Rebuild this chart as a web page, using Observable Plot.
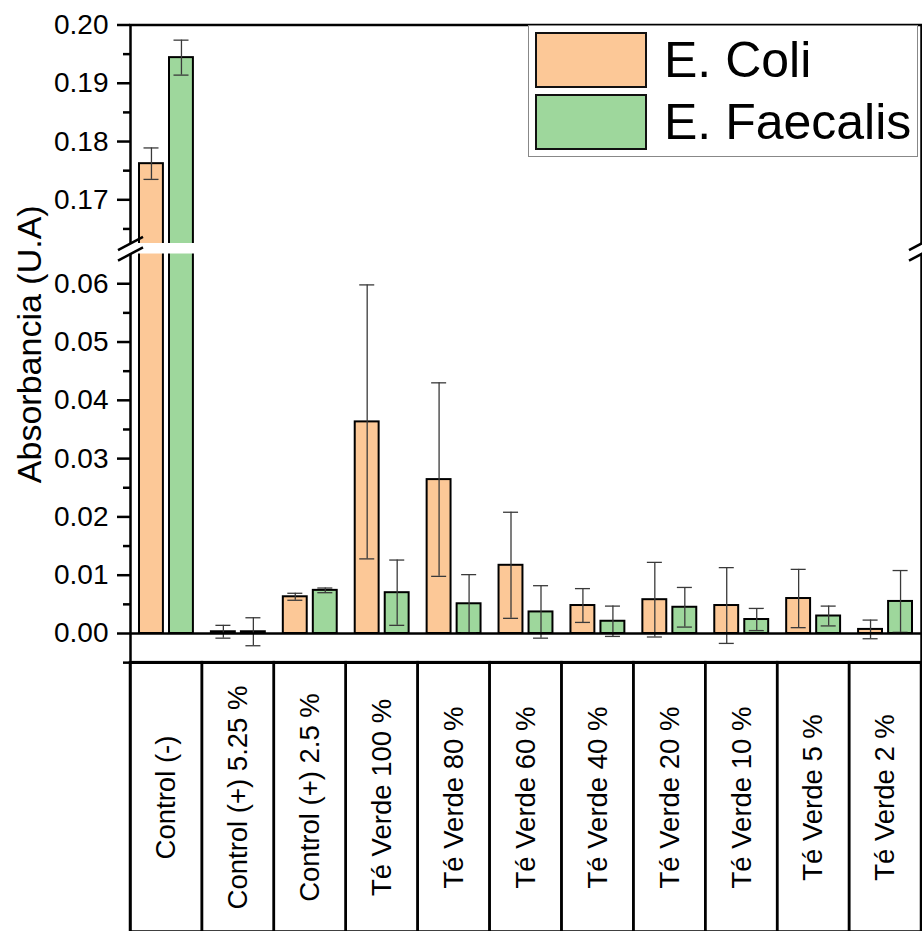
<!DOCTYPE html>
<html>
<head>
<meta charset="utf-8">
<script src="https://cdn.jsdelivr.net/npm/d3@7"></script>
<script src="https://cdn.jsdelivr.net/npm/@observablehq/plot@0.6"></script>
<style>
  body { margin: 0; background: #fff; font-family: "Liberation Sans", Arial, sans-serif; }
  #wrap { position: relative; width: 922px; height: 931px; overflow: hidden; }
  #legend { position: absolute; left: 528px; top: 25px; width: 390px; height: 132px; border: 1.5px solid #888; box-sizing: border-box; background: #fff; }
  .item { position: absolute; left: 6px; display: flex; align-items: center; }
  .sw { width: 108px; height: 52px; border: 2px solid #111; }
  .lab { font-size: 50px; margin-left: 17px; line-height: 1; color: #000; }
</style>
</head>
<body>
<div id="wrap"></div>
<script>
// ---- data ----
const categories = ["Control (-)", "Control (+) 5.25 %", "Control (+) 2.5 %", "Té Verde 100 %", "Té Verde 80 %", "Té Verde 60 %", "Té Verde 40 %", "Té Verde 20 %", "Té Verde 10 %", "Té Verde 5 %", "Té Verde 2 %"];
const seriesNames = ["E. Coli", "E. Faecalis"];
const coliMean = [0.1762, 0.0003, 0.0063, 0.0363, 0.0264, 0.0117, 0.0048, 0.0058, 0.0048, 0.0060, 0.0007];
const coliErr  = [0.0027, 0.0011, 0.0006, 0.0235, 0.0166, 0.0091, 0.0029, 0.0064, 0.0065, 0.0050, 0.0016];
const faecMean = [0.1944, 0.0003, 0.0074, 0.0070, 0.0051, 0.0037, 0.0021, 0.0045, 0.0024, 0.0030, 0.0055];
const faecErr  = [0.0030, 0.0024, 0.0004, 0.0056, 0.0050, 0.0045, 0.0026, 0.0034, 0.0019, 0.0017, 0.0053];
const majorTicks = [0, 0.01, 0.02, 0.03, 0.04, 0.05, 0.06, 0.17, 0.18, 0.19, 0.20];
const minorTicks = [-0.005, 0.005, 0.015, 0.025, 0.035, 0.045, 0.055, 0.165, 0.175, 0.185, 0.195];
const breakLow = 0.0651, breakHigh = 0.1625;
const yTitle = "Absorbancia (U.A)";
const colors = ["#FCC897", "#9ED79C"];

const coli = categories.map((c, i) => ({cat: c, value: coliMean[i], err: coliErr[i]}));
const faec = categories.map((c, i) => ({cat: c, value: faecMean[i], err: faecErr[i]}));

const slash = {draw(ctx) { ctx.moveTo(-12.5, 6.6); ctx.lineTo(12.5, -6.6); }};
const errColor = "#3a3a3a";

const chart = Plot.plot({
  width: 922, height: 931,
  marginLeft: 130, marginRight: 1, marginTop: 24.5, marginBottom: 0,
  style: {fontFamily: "'Liberation Sans', Arial, sans-serif", background: "white", color: "black", overflow: "visible"},
  x: {type: "band", domain: categories, padding: 0, round: false, axis: null},
  y: {type: "linear", domain: [0, breakLow, breakHigh, 0.20], range: [633, 253.5, 243, 24.5], axis: null},
  marks: [
    // category label boxes below the plot
    Plot.barY(categories, {x: d => d, y1: -0.005, y2: -0.06, fill: "none", stroke: "black", strokeWidth: 2.5}),
    // bars
    Plot.barY(coli, {x: "cat", y: "value", fill: colors[0], stroke: "black", strokeWidth: 2, insetLeft: 9, insetRight: 39}),
    Plot.barY(faec, {x: "cat", y: "value", fill: colors[1], stroke: "black", strokeWidth: 2, insetLeft: 39, insetRight: 9}),
    // error bars
    Plot.ruleX(coli, {x: "cat", y1: d => d.value - d.err, y2: d => d.value + d.err, dx: -15, stroke: errColor, strokeWidth: 1.3}),
    Plot.tickY(coli, {x: "cat", y: d => d.value + d.err, insetLeft: 13.5, insetRight: 43.4, stroke: errColor, strokeWidth: 1.3}),
    Plot.tickY(coli, {x: "cat", y: d => d.value - d.err, insetLeft: 13.5, insetRight: 43.4, stroke: errColor, strokeWidth: 1.3}),
    Plot.ruleX(faec, {x: "cat", y1: d => d.value - d.err, y2: d => d.value + d.err, dx: 15, stroke: errColor, strokeWidth: 1.3}),
    Plot.tickY(faec, {x: "cat", y: d => d.value + d.err, insetLeft: 43.5, insetRight: 13.4, stroke: errColor, strokeWidth: 1.3}),
    Plot.tickY(faec, {x: "cat", y: d => d.value - d.err, insetLeft: 43.5, insetRight: 13.4, stroke: errColor, strokeWidth: 1.3}),
    // zero line and plot bottom line
    Plot.ruleY([0], {stroke: "black", strokeWidth: 2.5}),
    Plot.ruleY([-0.005], {stroke: "black", strokeWidth: 2.5}),
    Plot.frame({stroke: "black", strokeWidth: 2.5}),
    // axis
    Plot.axisY(majorTicks, {anchor: "left", tickSize: 13, tickPadding: 9, tickFormat: d3.format(".2f"), fontSize: 28, strokeWidth: 2.5, stroke: "black", label: null}),
    Plot.axisY(minorTicks, {anchor: "left", tickSize: 7, text: null, strokeWidth: 2.5, stroke: "black", label: null}),
    // axis break
    Plot.rect([0], {y1: breakLow, y2: breakHigh, fill: "white", insetLeft: -14, insetRight: -3}),
    Plot.dot([breakHigh, breakLow], {y: d => d, frameAnchor: "left", symbol: slash, stroke: "black", strokeWidth: 2.5, fill: "none"}),
    Plot.dot([breakHigh, breakLow], {y: d => d, frameAnchor: "right", symbol: slash, stroke: "black", strokeWidth: 2.5, fill: "none"}),
    // category labels
    Plot.text(categories, {x: d => d, frameAnchor: "bottom", dy: -134, rotate: -90, fontSize: 27.5, textAnchor: "middle", lineAnchor: "middle", fill: "black"}),
    // y title
    Plot.text([yTitle], {text: d => d, frameAnchor: "left", dx: -100, dy: -134, rotate: -90, fontSize: 34, textAnchor: "middle", lineAnchor: "middle", fill: "black"})
  ]
});

const wrap = document.getElementById("wrap");
wrap.appendChild(chart);

// legend (inside the plot area, as in the reference)
const legend = document.createElement("div");
legend.id = "legend";
seriesNames.forEach((name, i) => {
  const item = document.createElement("div");
  item.className = "item";
  item.style.top = (i === 0 ? 6 : 68) + "px";
  const sw = document.createElement("div");
  sw.className = "sw";
  sw.style.background = colors[i];
  const lab = document.createElement("span");
  lab.className = "lab";
  lab.textContent = name;
  item.appendChild(sw);
  item.appendChild(lab);
  legend.appendChild(item);
});
wrap.appendChild(legend);
</script>
</body>
</html>
